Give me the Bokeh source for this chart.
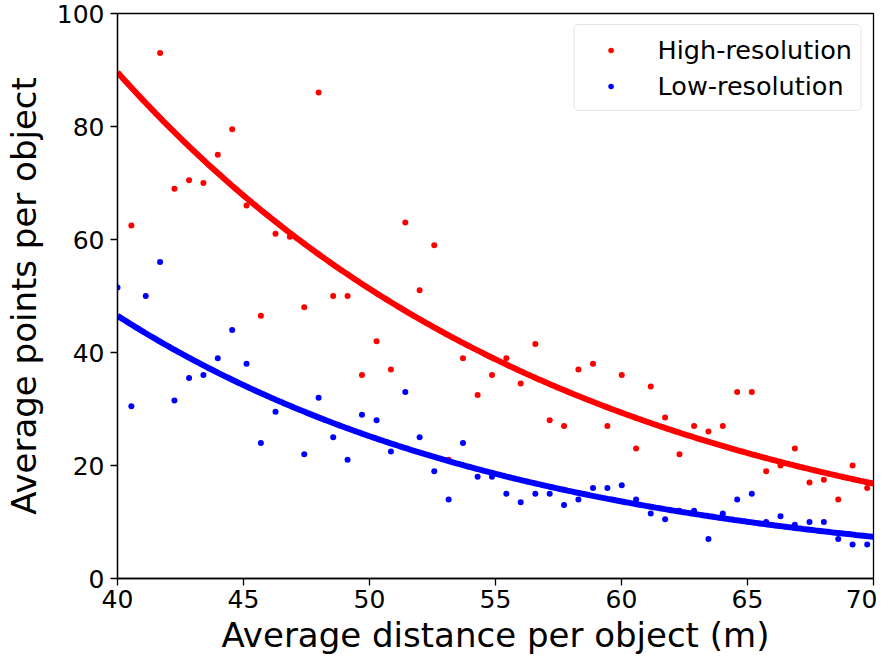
import numpy as np
from bokeh.plotting import figure
from bokeh.models import Range1d, FixedTicker, Legend, LegendItem
from bokeh.embed import file_html
from bokeh.resources import INLINE

# Scatter data
high_x = [40.55, 41.69, 42.26, 42.84, 43.41, 43.98, 44.55, 45.12, 45.69, 46.27,
          46.84, 47.41, 47.98, 48.56, 49.13, 49.70, 50.28, 50.85, 51.42, 51.99,
          52.57, 53.14, 53.71, 54.29, 54.86, 55.43, 56.00, 56.58, 57.15, 57.72,
          58.29, 58.87, 59.44, 60.01, 60.58, 61.16, 61.73, 62.30, 62.88, 63.45,
          64.02, 64.59, 65.17, 65.74, 66.31, 66.88, 67.46, 68.03, 68.60, 69.17,
          69.75]
high_y = [62.5, 93.0, 69.0, 70.5, 70.0, 75.0, 79.5, 66.0, 46.5, 61.0,
          60.5, 48.0, 86.0, 50.0, 50.0, 36.0, 42.0, 37.0, 63.0, 51.0,
          59.0, 21.0, 39.0, 32.5, 36.0, 39.0, 34.5, 41.5, 28.0, 27.0,
          37.0, 38.0, 27.0, 36.0, 23.0, 34.0, 28.5, 22.0, 27.0, 26.0,
          27.0, 33.0, 33.0, 19.0, 20.0, 23.0, 17.0, 17.5, 14.0, 20.0,
          16.0]

low_x = [40.00, 40.55, 41.12, 41.69, 42.26, 42.84, 43.41, 43.98, 44.55, 45.12,
         45.69, 46.27, 47.41, 47.98, 48.56, 49.13, 49.70, 50.28, 50.85, 51.42,
         51.99, 52.57, 53.14, 53.71, 54.29, 54.86, 55.43, 56.00, 56.58, 57.15,
         57.72, 58.29, 58.87, 59.44, 60.01, 60.58, 61.16, 61.73, 62.30, 62.88,
         63.45, 64.02, 64.59, 65.17, 65.74, 66.31, 66.88, 67.46, 68.03, 68.60,
         69.17, 69.75]
low_y = [51.5, 30.5, 50.0, 56.0, 31.5, 35.5, 36.0, 39.0, 44.0, 38.0,
         24.0, 29.5, 22.0, 32.0, 25.0, 21.0, 29.0, 28.0, 22.5, 33.0,
         25.0, 19.0, 14.0, 24.0, 18.0, 18.0, 15.0, 13.5, 15.0, 15.0,
         13.0, 14.0, 16.0, 16.0, 16.5, 14.0, 11.5, 10.5, 12.0, 12.0,
         7.0, 11.5, 14.0, 15.0, 10.0, 11.0, 9.5, 10.0, 10.0, 7.0,
         6.0, 6.0]

# Exponential fit curves y = a * exp(-b * (x - 40)), parameters
high_fit_a, high_fit_b = 89.6, 0.0558
low_fit_a, low_fit_b = 46.5, 0.0613

x_ticks = [40, 45, 50, 55, 60, 65, 70]
y_ticks = [0, 20, 40, 60, 80, 100]

FONT = "DejaVu Sans"

p = figure(width=877, height=657, output_backend="svg", toolbar_location=None,
           x_range=Range1d(40, 70), y_range=Range1d(0, 100),
           min_border_left=109, min_border_top=13, min_border_right=4,
           min_border_bottom=60)

p.xgrid.visible = False
p.ygrid.visible = False
p.outline_line_color = "black"
p.outline_line_width = 1.3
p.outline_line_alpha = 1.0

for ax in (p.xaxis[0], p.yaxis[0]):
    ax.axis_line_color = "black"
    ax.axis_line_width = 1.3
    ax.major_tick_line_color = "black"
    ax.major_tick_line_width = 1.3
    ax.major_tick_out = 7
    ax.major_tick_in = 0
    ax.minor_tick_line_color = None
    ax.major_label_text_font = FONT
    ax.major_label_text_font_size = "25px"
    ax.major_label_text_color = "black"
    ax.axis_label_text_font = FONT
    ax.axis_label_text_font_size = "34px"
    ax.axis_label_text_font_style = "normal"
    ax.axis_label_text_color = "black"

p.xaxis.ticker = FixedTicker(ticks=x_ticks)
p.yaxis.ticker = FixedTicker(ticks=y_ticks)
p.xaxis.axis_label = "Average distance per object (m)"
p.yaxis.axis_label = "Average points per object"
p.xaxis.major_label_standoff = 4
p.xaxis.axis_label_standoff = 4
p.yaxis.major_label_standoff = 6
p.yaxis.axis_label_standoff = 10

r_high = p.scatter(high_x, high_y, size=6, color="#ff0000", line_color=None)
r_low = p.scatter(low_x, low_y, size=6, color="#0000ff", line_color=None)

xf = np.linspace(40, 70, 300)
p.line(xf, high_fit_a * np.exp(-high_fit_b * (xf - 40)), line_color="#ff0000", line_width=6)
p.line(xf, low_fit_a * np.exp(-low_fit_b * (xf - 40)), line_color="#0000ff", line_width=6)

legend = Legend(items=[LegendItem(label="High-resolution", renderers=[r_high]),
                       LegendItem(label="Low-resolution", renderers=[r_low])],
                location="top_right")
legend.label_text_font = FONT
legend.label_text_font_size = "25.5px"
legend.label_text_color = "black"
legend.border_line_color = "#cccccc"
legend.border_line_width = 1.5
legend.border_radius = 5
legend.background_fill_alpha = 0.8
legend.padding = 9
legend.margin = 11
legend.glyph_width = 54
legend.glyph_height = 14
legend.label_height = 31
legend.label_standoff = 20
legend.spacing = 5
p.add_layout(legend)

open("out.html", "w").write(file_html(p, INLINE))
